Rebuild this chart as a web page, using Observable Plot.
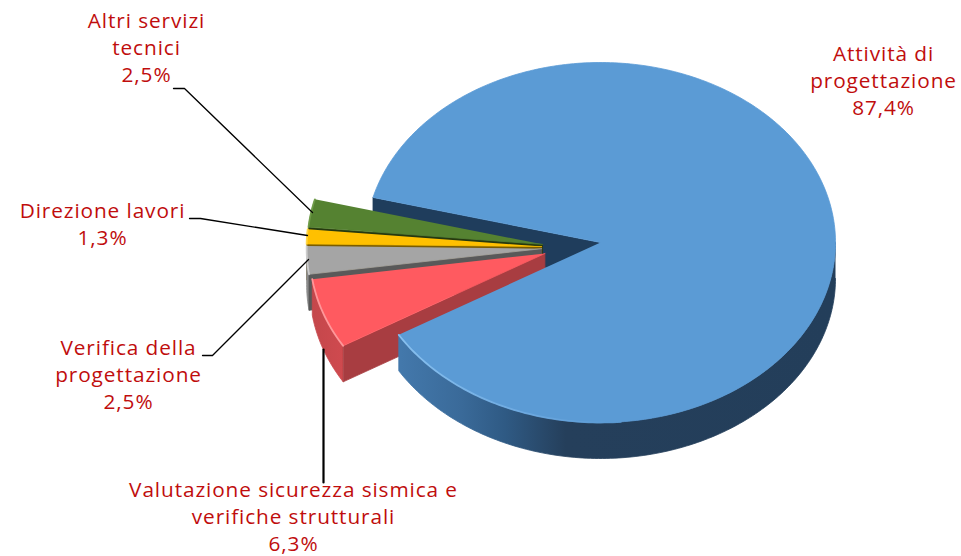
<!DOCTYPE html>
<html><head><meta charset="utf-8">
<style>html,body{margin:0;padding:0;background:#fff}svg{display:block}</style>
<script src="https://cdn.jsdelivr.net/npm/d3@7"></script>
<script src="https://cdn.jsdelivr.net/npm/@observablehq/plot@0.6"></script>
</head><body><div id="chart"></div>
<script>
// Data (clockwise from the back cut of the big slice)
const names = ["Attività di\nprogettazione","Valutazione sicurezza sismica e\nverifiche strutturali","Verifica della\nprogettazione","Direzione lavori","Altri servizi\ntecnici"];
const values = [87.4, 6.3, 2.5, 1.3, 2.5];

// Look of each slice
const topColors  = ["#5b9bd5","#ff5a60","#a5a5a5","#ffc000","#558231"];
const cutColors  = ["#1f3d5c","#a83d41","#595959","#7a5c00","#26390f"];
const rimColors  = ["url(#rimBlue)","url(#rimRed)","#8c8c8c","#a08000","#3a5a20"];
const edgeColors = ["url(#edgeBlue)","#ff9da0","#d2d2d2","#ffd84d","#6f9c48"];

// Label layout: centre x, centre y of block; leader polyline vertices
const labelX = [883,293,128,102,146];
const labelY = [79,515,373,222.5,46];
const leaders = [
  [],
  [[323,349],[323,482]],
  [[202,355],[212,355],[308,259]],
  [[189,218],[200,218],[307,235]],
  [[173,88],[184,88],[312,212]]
];
const leaderWidths = [0,2.2,1.3,1.3,1.3];

// Pie projection
const cx = 600, cy = 242, rx = 235, ry = 180, depth = 36, startAngle = -75.5;
const explodeX = 59, explodeY = 18, explodeDrop = 5;
const rad = d => d * Math.PI / 180;

let acc = startAngle;
const total = d3.sum(values);
const slices = values.map((v, i) => {
  const a0 = acc, a1 = acc + v / total * 360; acc = a1;
  const mid = rad((a0 + a1) / 2);
  const exploded = i > 0;
  const tx = cx + (exploded ? explodeX * Math.sin(mid) : 0);
  const ty = cy + (exploded ? explodeDrop - explodeY * Math.cos(mid) : 0);
  const pt = (a, d = 0) => ({x: tx + rx * Math.sin(rad(a)), y: ty - ry * Math.cos(rad(a)) + d});
  const arc = (s, e, d = 0) => d3.range(0, 1.0001, 1 / Math.max(2, Math.ceil(Math.abs(e - s)))).map(f => pt(s + (e - s) * f, d));
  return {i, a0, a1, tx, ty, pt, arc};
});

const poly = (pts, color) => Plot.line(pts, {x: "x", y: "y", fill: color, stroke: color, strokeWidth: 0.8, strokeLinejoin: "round"});

function wallMarks(s) {
  const marks = [];
  if (s.i === 0) return marks;
  // outer wall, the part facing the viewer
  const lo = Math.max(s.a0, 90), hi = Math.min(s.a1, 270);
  if (hi > lo) marks.push(poly([...s.arc(lo, hi), ...s.arc(hi, lo, depth)], rimColors[s.i]));
  // cut wall on the lower side of the slice
  marks.push(poly([{x: s.tx, y: s.ty}, {x: s.tx, y: s.ty + depth}, s.pt(s.a0, depth), s.pt(s.a0)], cutColors[s.i]));
  return marks;
}
function topMarks(s) {
  return [
    poly([{x: s.tx, y: s.ty}, ...s.arc(s.a0, s.a1)], topColors[s.i]),
    Plot.line(s.i === 0 ? s.arc(175, s.a1) : s.arc(s.a0, s.a1), {x: "x", y: "y", stroke: edgeColors[s.i], strokeWidth: 1.8, strokeOpacity: 0.9})
  ];
}

const blue = slices[0];
const marks = [
  () => {
    const defs = d3.create("svg:defs");
    const grad = (id, x1, x2, stops) => {
      const g = defs.append("linearGradient").attr("id", id).attr("gradientUnits", "userSpaceOnUse")
        .attr("x1", x1).attr("x2", x2).attr("y1", 0).attr("y2", 0);
      stops.forEach(([o, c]) => g.append("stop").attr("offset", o).attr("stop-color", c));
    };
    grad("rimBlue", 400, 835, [[0, "#4378ab"], [0.14, "#3a6a99"], [0.24, "#2f5a84"], [0.38, "#253f5b"], [1, "#233e5a"]]);
    grad("rimRed", 311, 345, [[0, "#c4474b"], [1, "#d04a4f"]]);
    grad("edgeBlue", 400, 610, [[0, "#8cc4f2"], [0.6, "#6fabe2"], [1, "#5b9bd5"]]);
    return defs.node();
  },
  // back wall of the big slice, seen through the gap
  poly([{x: cx, y: cy}, {x: cx, y: cy + depth}, blue.pt(blue.a0, depth), blue.pt(blue.a0)], cutColors[0]),
  // exploded slices, back to front
  ...[4, 3, 2, 1].flatMap(i => [...wallMarks(slices[i]), ...topMarks(slices[i])]),
  // big slice in front of the walls of the exploded ones
  poly([...blue.arc(90, blue.a1), ...blue.arc(blue.a1, 90, depth)], rimColors[0]),
  ...topMarks(blue),
  // leaders
  ...leaders.filter(l => l.length).map(l => Plot.line(l, {x: d => d[0], y: d => d[1], stroke: "#000", strokeWidth: leaderWidths[leaders.indexOf(l)]})),
  // labels
  Plot.text(values.map((v, i) => ({
      x: labelX[i], y: labelY[i],
      t: names[i] + "\n" + v.toFixed(1).replace(".", ",") + "%"
    })), {
    x: "x", y: "y", text: "t", textAnchor: "middle", lineAnchor: "middle",
    fill: "#c00d0d", stroke: "none", fontSize: 20.8, lineHeight: 1.3,
    fontFamily: "'Open Sans', sans-serif", fontWeight: 400
  })
];

const chart = Plot.plot({
  width: 961, height: 556, margin: 0,
  x: {domain: [0, 961], range: [0, 961], axis: null},
  y: {domain: [0, 556], range: [0, 556], axis: null},
  style: {background: "#fff"},
  marks
});
document.getElementById("chart").append(chart);
d3.select(chart).selectAll("text").style("letter-spacing", "0.9px");
</script></body></html>
